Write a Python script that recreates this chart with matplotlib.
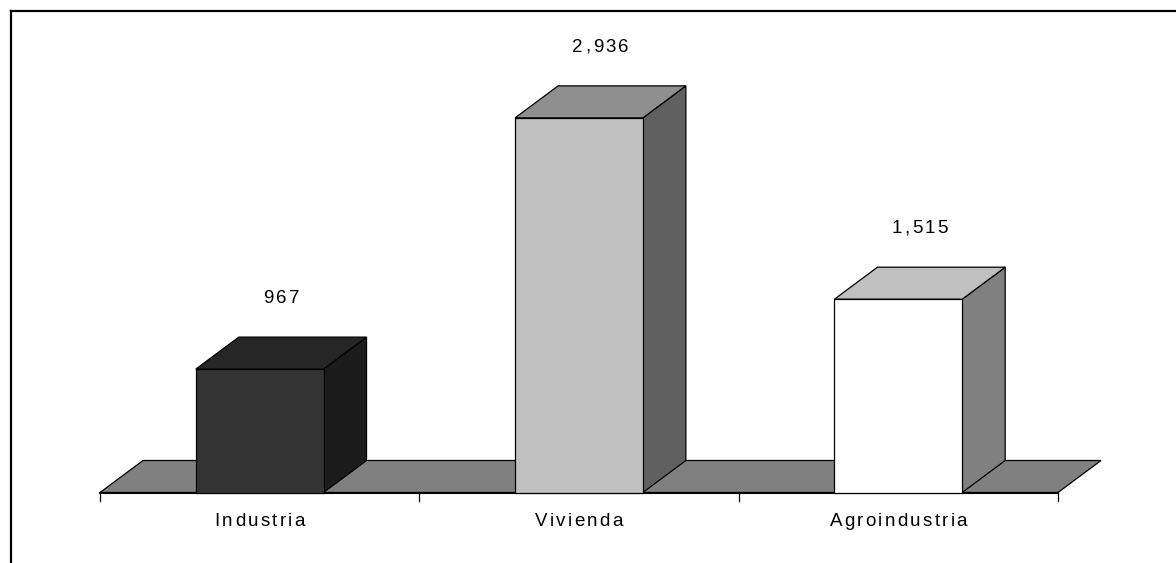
import matplotlib
matplotlib.use("Agg")
import matplotlib.pyplot as plt
from matplotlib.patches import Polygon
from matplotlib.lines import Line2D
from matplotlib.transforms import Affine2D
from matplotlib.font_manager import FontProperties

# Chart data
categories = ["Industria", "Vivienda", "Agroindustria"]
values = [967, 2936, 1515]
value_labels = ["967", "2,936", "1,515"]

# Face colours per bar: front, top, side
front_colors = ["#333333", "#c0c0c0", "#ffffff"]
top_colors = ["#262626", "#8f8f8f", "#c0c0c0"]
side_colors = ["#1c1c1c", "#606060", "#808080"]
floor_color = "#808080"

BAR_WIDTH = 0.4
DEPTH_PX = (43, 32)      # oblique depth of the 3D effect, in pixels
LETTER_SPACING = 2.3     # extra pixels between characters
FONT = FontProperties(family="Liberation Sans", size=13.5)


def depth_offset(ax, px, py):
    # convert a pixel offset into data units for this axes
    inv = ax.transData.inverted()
    x0, y0 = inv.transform((0, 0))
    x1, y1 = inv.transform((px, py))
    return x1 - x0, y1 - y0


def spaced_text(ax, x, y, s, oy_px, spacing=LETTER_SPACING):
    # draws text centred on (x, y) with extra letter spacing
    renderer = ax.figure.canvas.get_renderer()
    widths = [renderer.get_text_width_height_descent(s[:i], FONT, ismath=False)[0]
              for i in range(1, len(s) + 1)]
    total = widths[-1] + spacing * (len(s) - 1)
    left = -total / 2
    for i, ch in enumerate(s):
        start = (widths[i - 1] if i else 0) + i * spacing
        tr = ax.transData + Affine2D().translate(left + start, oy_px)
        ax.text(x, y, ch, transform=tr, fontproperties=FONT,
                ha="left", va="baseline", color="black", clip_on=False)


fig = plt.figure(figsize=(11.76, 5.63), dpi=100)
ax = fig.add_axes([100 / 1176, 70.5 / 563, 958 / 1176, 3500 * 0.1276 / 563])
ax.set_xlim(-0.5, len(categories) - 0.5)
ax.set_ylim(0, 3500)
ax.axis("off")

ddx, ddy = depth_offset(ax, *DEPTH_PX)
x_lo, x_hi = -0.5, len(categories) - 0.5

# floor
floor = Polygon([(x_lo, 0), (x_hi, 0), (x_hi + ddx, ddy), (x_lo + ddx, ddy)],
                closed=True, facecolor=floor_color, edgecolor="black",
                linewidth=0.9, clip_on=False, zorder=1)
ax.add_patch(floor)
ax.plot([x_lo, x_hi], [0, 0], color="black", linewidth=1.5,
        clip_on=False, zorder=2)

# category boundary ticks under the floor
y_end = depth_offset(ax, 0, -8)[1]
for b in range(len(categories) + 1):
    bx = b - 0.5
    ax.plot([bx, bx], [0, y_end], color="black", linewidth=0.9,
            clip_on=False, zorder=2)

# bars
for i, v in enumerate(values):
    x0 = i - BAR_WIDTH / 2
    x1 = i + BAR_WIDTH / 2
    side = Polygon([(x1, 0), (x1 + ddx, ddy), (x1 + ddx, v + ddy), (x1, v)],
                   closed=True, facecolor=side_colors[i], edgecolor="black",
                   linewidth=0.9, clip_on=False, zorder=3)
    top = Polygon([(x0, v), (x1, v), (x1 + ddx, v + ddy), (x0 + ddx, v + ddy)],
                  closed=True, facecolor=top_colors[i], edgecolor="black",
                  linewidth=0.9, clip_on=False, zorder=3)
    front = Polygon([(x0, 0), (x1, 0), (x1, v), (x0, v)],
                    closed=True, facecolor=front_colors[i], edgecolor="black",
                    linewidth=0.9, clip_on=False, zorder=4)
    for p in (side, top, front):
        ax.add_patch(p)

    # value label above the bar
    spaced_text(ax, i + ddx / 2, v + ddy, value_labels[i], 34)
    # category label below the floor
    spaced_text(ax, i, 0, categories[i], -34)

# chart frame (top and left edges)
fig.add_artist(Line2D([10.5 / 1176, 1.0], [1 - 10.5 / 563, 1 - 10.5 / 563],
                      transform=fig.transFigure, color="black", linewidth=1.6))
fig.add_artist(Line2D([10.5 / 1176, 10.5 / 1176], [0.0, 1 - 10.5 / 563],
                      transform=fig.transFigure, color="black", linewidth=1.6))

fig.savefig("out.png", dpi=100)
